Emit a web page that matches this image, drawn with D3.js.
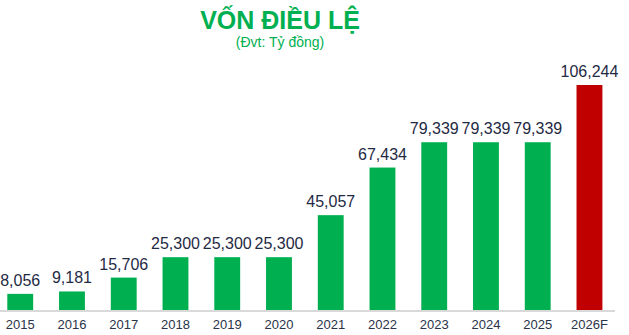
<!DOCTYPE html>
<html><head><meta charset="utf-8">
<script src="https://cdn.jsdelivr.net/npm/d3@7"></script>
<style>html,body{margin:0;padding:0;background:#fff;}svg{display:block;font-family:"Liberation Sans",Arial,sans-serif;}</style>
</head><body>
<svg id="c" width="629" height="335"></svg>
<script>
const categories = ["2015","2016","2017","2018","2019","2020","2021","2022","2023","2024","2025","2026F"];
const values = [8056,9181,15706,25300,25300,25300,45057,67434,79339,79339,79339,106244];
const forecast = [false,false,false,false,false,false,false,false,false,false,false,true];
const title = "VỐN ĐIỀU LỆ";
const subtitle = "(Đvt: Tỷ đồng)";

const svg = d3.select("#c");
const baseY = 311;
const x = d3.scaleBand().domain(categories).range([0, 609.7]).paddingInner(0.5).paddingOuter(0.141);
const y = d3.scaleLinear().domain([0, 106244]).range([baseY, 85]);

svg.append("text").attr("x", 280).attr("y", 29).attr("text-anchor","middle")
  .attr("font-size", 25).attr("font-weight","bold").attr("fill","#00b050").text(title);
svg.append("text").attr("x", 280).attr("y", 47).attr("text-anchor","middle")
  .attr("font-size", 14).attr("fill","#00b050").text(subtitle);

svg.selectAll("rect.bar").data(categories).enter().append("rect")
  .attr("class","bar")
  .attr("x", d => x(d)).attr("width", x.bandwidth())
  .attr("y", (d,i) => y(values[i])).attr("height", (d,i) => baseY - y(values[i]))
  .attr("fill", (d,i) => forecast[i] ? "#c00000" : "#00b050");

svg.selectAll("text.val").data(categories).enter().append("text")
  .attr("class","val")
  .attr("x", d => x(d) + x.bandwidth()/2).attr("y", (d,i) => y(values[i]) - 8)
  .attr("text-anchor","middle").attr("font-size", 16).attr("fill","#1f2a44")
  .text((d,i) => d3.format(",")(values[i]));

const axis = d3.axisBottom(x).tickSize(0).tickPadding(9);
const g = svg.append("g").attr("transform", `translate(0,${baseY})`).call(axis);
g.select(".domain").attr("d", "M0,0H615").attr("stroke","#d9d9d9").attr("stroke-width",2);
g.selectAll("text").attr("font-size", 13).attr("fill","#2a3348").attr("font-family","Liberation Sans, Arial, sans-serif");
</script>
</body></html>
